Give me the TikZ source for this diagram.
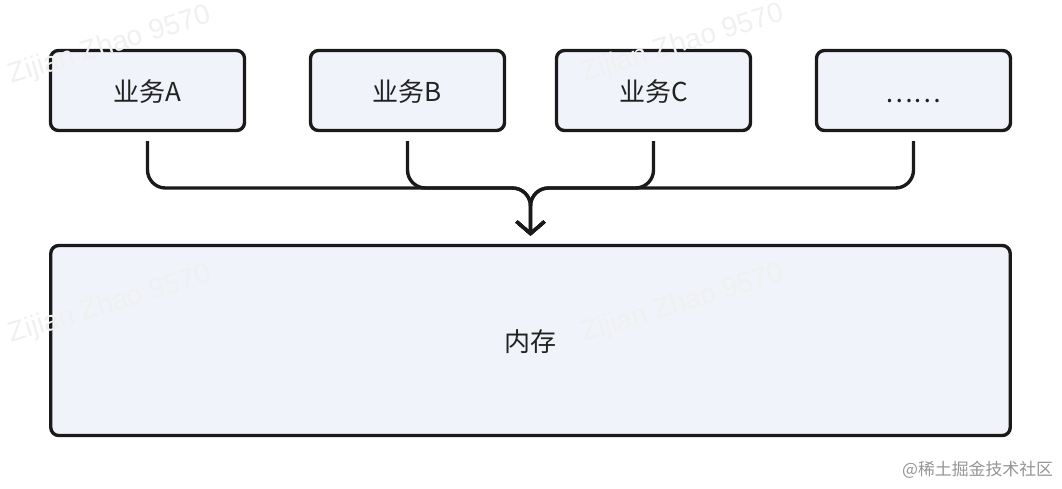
\documentclass[tikz,border=0pt]{standalone}
\usepackage{fontspec}
\setmainfont{Noto Sans CJK SC}
\newfontfamily\wmfont{Liberation Sans}
\usepackage{tikz}
\usetikzlibrary{arrows.meta}

\definecolor{boxfill}{RGB}{240,243,250}
\definecolor{boxline}{RGB}{26,26,26}
\definecolor{txtcol}{RGB}{34,34,34}

\begin{document}
\begin{tikzpicture}[x=0.025cm,y=-0.025cm,
	box/.style={draw=boxline,fill=boxfill,line width=2.4pt,rounded corners=0.2cm,
		text=txtcol,font=\fontsize{18.5}{22}\selectfont,text height=1.75em},
	link/.style={draw=boxline,line width=2.4pt,rounded corners=0.45cm,
		shorten <=0.22cm,shorten >=0.2cm,
		-{Straight Barb[length=0.3cm,width=0.7cm]}},
	wmark/.style={text=black!6,font=\wmfont\fontsize{20}{24}\selectfont,rotate=17}]
			\useasboundingbox (0,0) rectangle (1062,488);
			
			\foreach \i/\x/\t in {1/147.5/业务A,2/407.5/业务B,3/653.5/业务C,4/913.5/……} {
				\node[box,minimum width=4.85cm,minimum height=2.0cm] (B\i) at (\x,90.5) {\t};
			}
			\node[box,minimum width=23.98cm,minimum height=4.75cm] (M) at (530.5,340.5) {内存};
			\coordinate (J) at (530.5,188);
			
			\draw[link] (B1) |- (J) -- (M);
			\draw[link] (B2) |- (J) -- (M);
			\draw[link] (B3) |- (J) -- (M);
			\draw[link] (B4) |- (J) -- (M);
			
			\node[wmark] (W1) at (110,46) {Zijian Zhao 9570};
			\node[wmark] (W2) at (683,44) {Zijian Zhao 9570};
			\node[wmark] (W3) at (110,305) {Zijian Zhao 9570};
			\node[wmark] (W4) at (683,304) {Zijian Zhao 9570};
			\node[anchor=east,text=black!42,font=\fontsize{12}{14}\selectfont] (S) at (1058,470) {@稀土掘金技术社区};
		\end{tikzpicture}
\end{document}
